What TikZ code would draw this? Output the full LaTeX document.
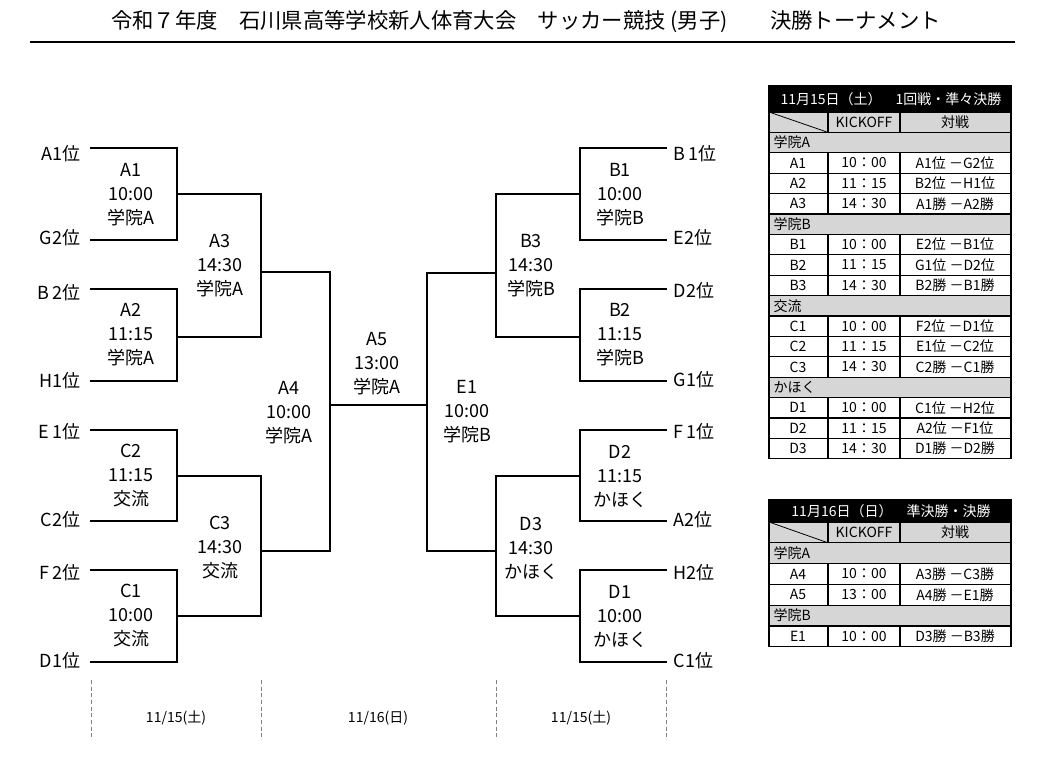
\documentclass[tikz,border=0pt]{standalone}
\usepackage{fontspec}
\setmainfont{Noto Sans CJK JP}
\begin{document}
\begin{tikzpicture}[x=0.75pt,y=-0.75pt,line width=1pt,
    match/.style={align=center,font=\fontsize{13.5}{18}\selectfont,inner sep=0pt},
    team/.style={font=\fontsize{13.5}{16}\selectfont,inner sep=0pt},
    cell/.style={font=\fontsize{10.5}{12}\selectfont,inner sep=0pt},
    grayrow/.style={fill=black!16}]
  \useasboundingbox (0,0) rectangle (1039,767);
  % title
  \node[font=\fontsize{16}{18}\selectfont] (title) at (526,22) {令和７年度　石川県高等学校新人体育大会　サッカー競技 (男子)　　決勝トーナメント};
  \draw[line width=2pt] (30,42) -- (1015,42);
  % team ends, left and right
  \foreach \n/\txt/\y/\ty in {la1/A1位/148/154,lg2/G2位/240/238,lb2/B\,2位/289/293,lh1/H1位/381/381,
      le1/E\,1位/430/432,lc2/C2位/521/520,lf2/F\,2位/570/573,ld1/D1位/662/661} {
    \coordinate (\n) at (90,\y);
    \node[team,anchor=east] (t-\n) at (81,\ty) {\txt};
  }
  \foreach \n/\txt/\y/\ty in {rb1/B\,1位/148/154,re2/E2位/240/238,rd2/D2位/289/291,rg1/G1位/381/380,
      rf1/F\,1位/430/432,ra2/A2位/521/520,rh2/H2位/570/573,rc1/C1位/662/661} {
    \coordinate (\n) at (667,\y);
    \node[team,anchor=west] (t-\n) at (673,\ty) {\txt};
  }
  % junctions
  \coordinate (wA1) at (177,194);
  \coordinate (wA2) at (177,337);
  \coordinate (wC2) at (177,476);
  \coordinate (wC1) at (177,616);
  \coordinate (wA3) at (261,272);
  \coordinate (wC3) at (261,551);
  \coordinate (wA4) at (330,405);
  \coordinate (wB1) at (580,194);
  \coordinate (wB2) at (580,337);
  \coordinate (wD2) at (580,476);
  \coordinate (wD1) at (580,616);
  \coordinate (wB3) at (496,273);
  \coordinate (wD3) at (496,551);
  \coordinate (wE1) at (427,405);
  % bracket
  \draw (la1) -| (wA1) |- (lg2);
  \draw (lb2) -| (wA2) |- (lh1);
  \draw (le1) -| (wC2) |- (lc2);
  \draw (lf2) -| (wC1) |- (ld1);
  \draw (wA1) -| (wA3) |- (wA2);
  \draw (wC2) -| (wC3) |- (wC1);
  \draw (wA3) -| (wA4) |- (wC3);
  \draw (rb1) -| (wB1) |- (re2);
  \draw (rd2) -| (wB2) |- (rg1);
  \draw (rf1) -| (wD2) |- (ra2);
  \draw (rh2) -| (wD1) |- (rc1);
  \draw (wB1) -| (wB3) |- (wB2);
  \draw (wD2) -| (wD3) |- (wD1);
  \draw (wB3) -| (wE1) |- (wD3);
  \draw (wA4) -- (wE1);
  % matches
  \node[match] (mA1) at (131,195) {A1\\10:00\\学院A};
  \node[match] (mA2) at (131,335) {A2\\11:15\\学院A};
  \node[match] (mC2) at (131,476) {C2\\11:15\\交流};
  \node[match] (mC1) at (131,616) {C1\\10:00\\交流};
  \node[match] (mA3) at (220,266) {A3\\14:30\\学院A};
  \node[match] (mC3) at (220,548) {C3\\14:30\\交流};
  \node[match] (mA4) at (289,413) {A4\\10:00\\学院A};
  \node[match] (mA5) at (377,364) {A5\\13:00\\学院A};
  \node[match] (mE1) at (467,412) {E1\\10:00\\学院B};
  \node[match] (mB3) at (531,266) {B3\\14:30\\学院B};
  \node[match] (mD3) at (531,548) {D3\\14:30\\かほく};
  \node[match] (mB1) at (620,195) {B1\\10:00\\学院B};
  \node[match] (mB2) at (620,335) {B2\\11:15\\学院B};
  \node[match] (mD2) at (620,476) {D2\\11:15\\かほく};
  \node[match] (mD1) at (620,616) {D1\\10:00\\かほく};
  % days
  \foreach \x in {91,261,496,666}
    \draw[gray,line width=0.5pt,dash pattern=on 3pt off 2pt] (\x,680) -- (\x,740);
  \node[cell] (day1) at (176,718) {11/15(土)};
  \node[cell] (day2) at (378,718) {11/16(日)};
  \node[cell] (day3) at (581,718) {11/15(土)};
  % table 1
  \fill (769,86) rectangle (1011,112);
  \node[cell,text=white] (h1) at (891,99) {11月15日（土）　1回戦・準々決勝};
  \foreach \i in {0,1,5,9,13}
    \fill[grayrow] (769,{112+20.4*\i}) rectangle (1011,{112+20.4*(\i+1)});
  \foreach \i in {0,...,17}
    \draw[line width=0.8pt] (769,{112+20.4*\i}) -- (1011,{112+20.4*\i});
  \foreach \i in {0,2,3,4,6,7,8,10,11,12,14,15,16} {
    \draw[line width=0.8pt] (828,{112+20.4*\i}) -- (828,{112+20.4*(\i+1)});
    \draw[line width=0.8pt] (900,{112+20.4*\i}) -- (900,{112+20.4*(\i+1)});
  }
  \draw[line width=0.8pt] (769,86) rectangle (1011,458.8);
  \draw[line width=0.6pt] (769,112) -- (828,132.4);
  \node[cell] (k1) at (864,122.2) {KICKOFF};
  \node[cell] (v1) at (955,122.2) {対戦};
  \foreach \i/\g in {1/学院A,5/学院B,9/交流,13/かほく}
    \node[cell,anchor=west] (g1-\i) at (773,{122.2+20.4*\i}) {\g};
  \foreach \i/\a/\b/\c in {2/A1/10：00/A1位 －G2位,3/A2/11：15/B2位 －H1位,4/A3/14：30/A1勝 －A2勝,
      6/B1/10：00/E2位 －B1位,7/B2/11：15/G1位 －D2位,8/B3/14：30/B2勝 －B1勝,
      10/C1/10：00/F2位 －D1位,11/C2/11：15/E1位 －C2位,12/C3/14：30/C2勝 －C1勝,
      14/D1/10：00/C1位 －H2位,15/D2/11：15/A2位 －F1位,16/D3/14：30/D1勝 －D2勝} {
    \node[cell] (a1-\i) at (798,{122.2+20.4*\i}) {\a};
    \node[cell] (b1-\i) at (864,{122.2+20.4*\i}) {\b};
    \node[cell] (c1-\i) at (955,{122.2+20.4*\i}) {\c};
  }
  % table 2
  \fill (769,500) rectangle (1011,522);
  \node[cell,text=white] (h2) at (891,511) {11月16日（日）　準決勝・決勝};
  \foreach \i in {0,1,4}
    \fill[grayrow] (769,{522+20.8*\i}) rectangle (1011,{522+20.8*(\i+1)});
  \foreach \i in {0,...,6}
    \draw[line width=0.8pt] (769,{522+20.8*\i}) -- (1011,{522+20.8*\i});
  \foreach \i in {0,2,3,5} {
    \draw[line width=0.8pt] (828,{522+20.8*\i}) -- (828,{522+20.8*(\i+1)});
    \draw[line width=0.8pt] (900,{522+20.8*\i}) -- (900,{522+20.8*(\i+1)});
  }
  \draw[line width=0.8pt] (769,500) rectangle (1011,646.8);
  \draw[line width=0.6pt] (769,522) -- (828,542.8);
  \node[cell] (k2) at (864,532.4) {KICKOFF};
  \node[cell] (v2) at (955,532.4) {対戦};
  \foreach \i/\g in {1/学院A,4/学院B}
    \node[cell,anchor=west] (g2-\i) at (773,{532.4+20.8*\i}) {\g};
  \foreach \i/\a/\b/\c in {2/A4/10：00/A3勝 －C3勝,3/A5/13：00/A4勝 －E1勝,5/E1/10：00/D3勝 －B3勝} {
    \node[cell] (a2-\i) at (798,{532.4+20.8*\i}) {\a};
    \node[cell] (b2-\i) at (864,{532.4+20.8*\i}) {\b};
    \node[cell] (c2-\i) at (955,{532.4+20.8*\i}) {\c};
  }
\end{tikzpicture}
\end{document}
